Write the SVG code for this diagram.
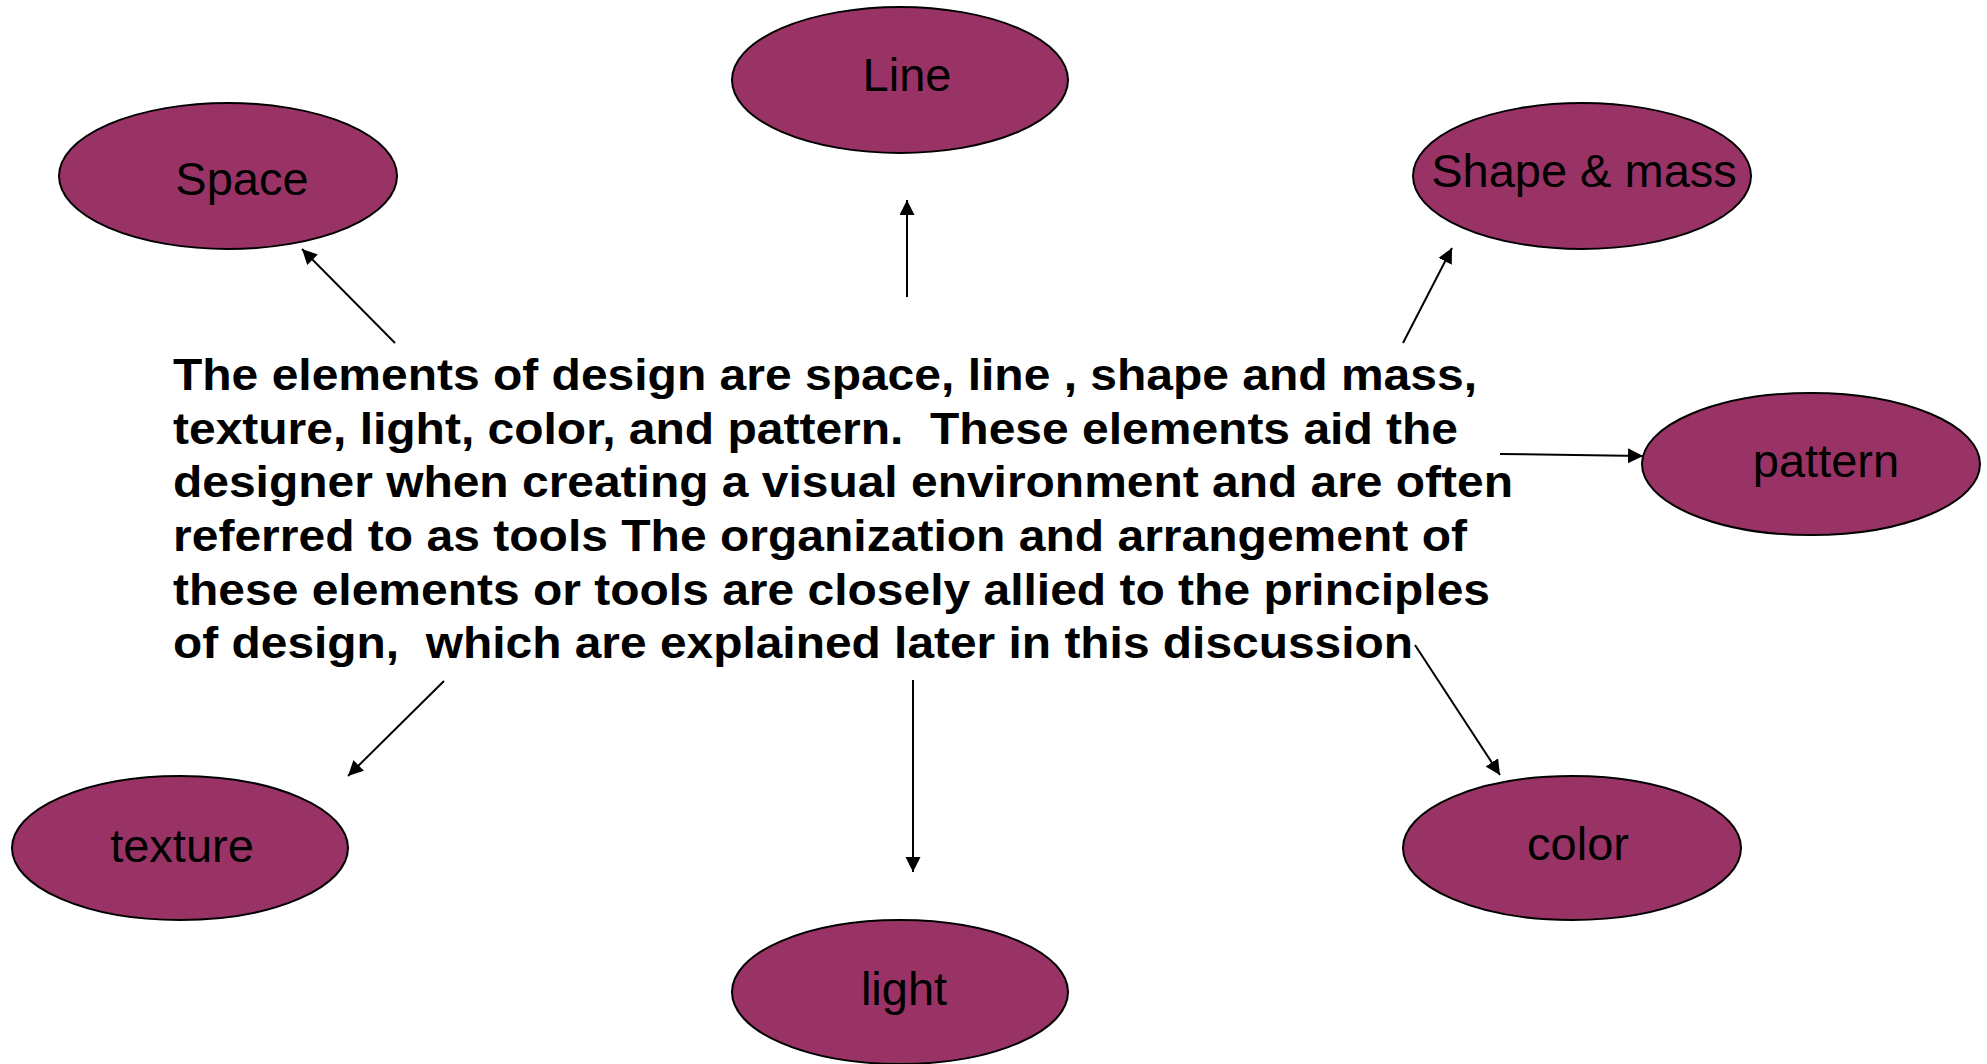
<svg xmlns="http://www.w3.org/2000/svg" width="1987" height="1064" viewBox="0 0 1987 1064">
<style>
.node ellipse{fill:#993366;stroke:#000;stroke-width:2}
.node text{font-family:"Liberation Sans",Arial,sans-serif;font-size:47px;fill:#000;text-anchor:middle}
.body{font-family:"Liberation Sans",Arial,sans-serif;font-size:44px;font-weight:bold;fill:#000;white-space:pre}
.conn line{stroke:#000;stroke-width:2;marker-end:url(#arrow)}
</style>
<defs>
<marker id="arrow" markerUnits="userSpaceOnUse" markerWidth="16" markerHeight="16" viewBox="0 0 16 16" refX="15" refY="7.5" orient="auto">
<path d="M0,0 L15,7.5 L0,15 z" fill="#000"/>
</marker>
</defs>
<rect width="1987" height="1064" fill="#fff"/>
<g id="line-node" class="node"><ellipse cx="900" cy="80" rx="168" ry="73"/><text x="907" y="91">Line</text></g>
<g id="space-node" class="node"><ellipse cx="228" cy="176" rx="169" ry="73"/><text x="242" y="195">Space</text></g>
<g id="shape-node" class="node"><ellipse cx="1582" cy="176" rx="169" ry="73"/><text x="1584" y="187">Shape &amp; mass</text></g>
<g id="pattern-node" class="node"><ellipse cx="1811" cy="464" rx="169" ry="71"/><text x="1826" y="477">pattern</text></g>
<g id="texture-node" class="node"><ellipse cx="180" cy="848" rx="168" ry="72"/><text x="182" y="862">texture</text></g>
<g id="color-node" class="node"><ellipse cx="1572" cy="848" rx="169" ry="72"/><text x="1578" y="860">color</text></g>
<g id="light-node" class="node"><ellipse cx="900" cy="992" rx="168" ry="72"/><text x="904" y="1005">light</text></g>
<g id="center-text">
<text class="body" x="173" y="390" textLength="1304" lengthAdjust="spacingAndGlyphs">The elements of design are space, line , shape and mass,</text>
<text class="body" x="173" y="444" textLength="1285" lengthAdjust="spacingAndGlyphs">texture, light, color, and pattern.  These elements aid the</text>
<text class="body" x="173" y="497" textLength="1340" lengthAdjust="spacingAndGlyphs">designer when creating a visual environment and are often</text>
<text class="body" x="173" y="551" textLength="1294" lengthAdjust="spacingAndGlyphs">referred to as tools The organization and arrangement of</text>
<text class="body" x="173" y="605" textLength="1317" lengthAdjust="spacingAndGlyphs">these elements or tools are closely allied to the principles</text>
<text class="body" x="173" y="658" textLength="1240" lengthAdjust="spacingAndGlyphs">of design,  which are explained later in this discussion</text>
</g>
<g id="connectors" class="conn">
<line x1="395" y1="343" x2="302" y2="249"/>
<line x1="907" y1="297" x2="907" y2="200"/>
<line x1="1403" y1="343" x2="1452" y2="248"/>
<line x1="1500" y1="454" x2="1643" y2="456"/>
<line x1="1415" y1="645" x2="1500" y2="775"/>
<line x1="913" y1="680" x2="913" y2="872"/>
<line x1="444" y1="681" x2="348" y2="776"/>
</g>
</svg>
